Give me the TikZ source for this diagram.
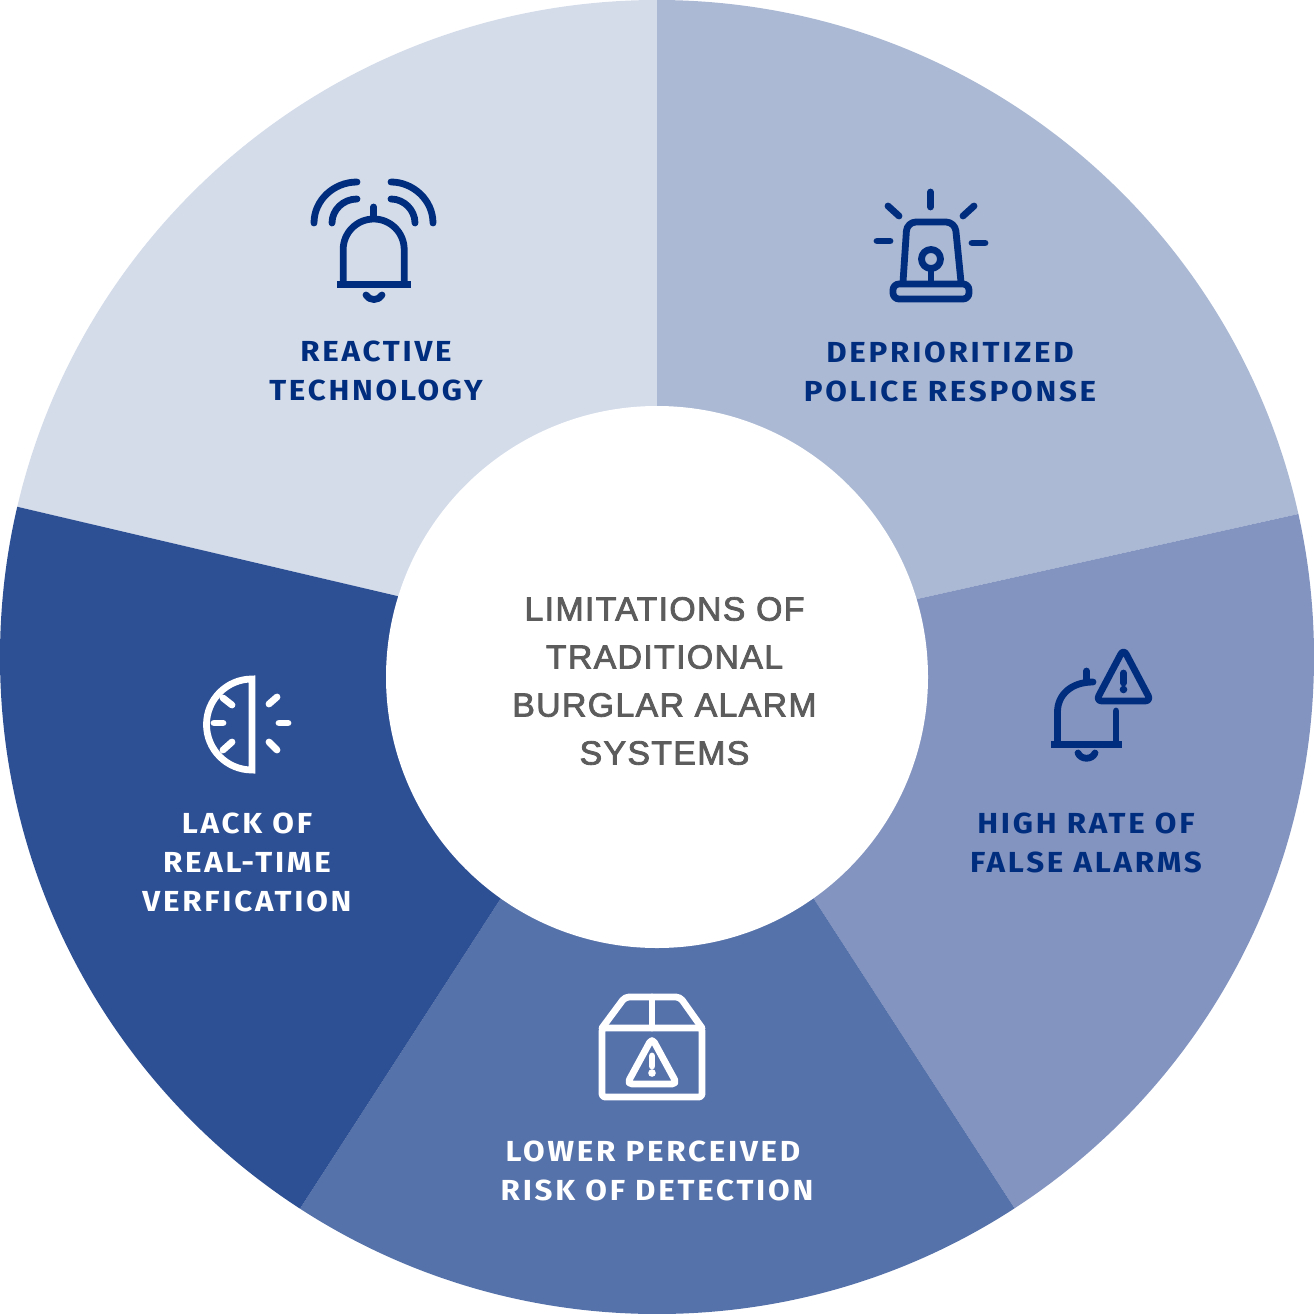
\documentclass[tikz,border=0pt]{standalone}
\usepackage{fontspec}
\setmainfont{Fira Sans}
\newfontfamily\lblbold[LetterSpace=9.5,FakeStretch=1.08]{Fira Sans Bold}
\newfontfamily\ctrfont[LetterSpace=4,FakeBold=2.4,FakeStretch=1.01]{Liberation Sans}
\definecolor{segA}{HTML}{ABB9D4}
\definecolor{segB}{HTML}{8394C0}
\definecolor{segC}{HTML}{5672AA}
\definecolor{segD}{HTML}{2D4F94}
\definecolor{segE}{HTML}{D4DCEA}
\definecolor{ink}{HTML}{012D7E}
\definecolor{ctrgray}{HTML}{5C5C5C}
\tikzset{
  lbl/.style={align=center,inner sep=0pt,font=\lblbold\fontsize{29}{39}\selectfont},
  ctr/.style={circle,fill=white,minimum size=542pt,inner sep=0pt},
  ico/.style={line width=6.8pt,line cap=round,line join=round},
  icosq/.style={line width=7pt,line cap=butt,line join=round},
}
\begin{document}
\begin{tikzpicture}[x=1pt,y=-1pt]
\useasboundingbox (0,0) rectangle (1314,1314);
\coordinate (o) at (657,657);
\begin{scope}
\clip (o) circle[radius=657pt];
\fill[segE] (o) -- (657,-20) -- (-20,-20) -- (-20,498) -- cycle;
\fill[segA] (o) -- (657,-20) -- (1334,-20) -- (1334,506) -- cycle;
\fill[segB] (o) -- (1334,506) -- (1334,1334) -- (1100,1340) -- cycle;
\fill[segC] (o) -- (1100,1340) -- (215,1340) -- cycle;
\fill[segD] (o) -- (215,1340) -- (-20,1334) -- (-20,498) -- cycle;
\end{scope}
\node[ctr] (hub) at (657,677) {};
\node[align=center,inner sep=0pt,text=ctrgray,font=\ctrfont\fontsize{33.5}{48}\selectfont] (hubtext) at (664.5,681) {LIMITATIONS OF\\TRADITIONAL\\BURGLAR ALARM\\SYSTEMS};

% Reactive technology icon
\begin{scope}[ink,ico]
\draw (343.2,284) -- (343.2,249.5) arc[start angle=180,end angle=0,radius=30.5pt] -- (404.2,284);
\draw (373.7,207) -- (373.7,217);
\draw[icosq] (337,284.5) -- (411,284.5);
\draw (366,295) .. controls (369,301) and (379,301) .. (382,295);
\draw (314,223) .. controls (314,200) and (334,182) .. (357,182);
\draw (332,223) .. controls (332,210) and (343,199) .. (357,199);
\draw (433,223) .. controls (433,200) and (413,182) .. (391,182);
\draw (415,223) .. controls (415,210) and (404,199) .. (391,199);
\end{scope}
\node[lbl,text=ink] (reactive) at (376,371) {REACTIVE\\TECHNOLOGY};

% Police light icon
\begin{scope}[ink,ico]
\draw (930.5,192) -- (930.5,207);
\draw (888,206) -- (899,216);
\draw (974,206) -- (963,216);
\draw (877,241) -- (890,241);
\draw (972,243) -- (985,243);
\draw[rounded corners=9pt] (903,282) -- (907,222) -- (955,222) -- (961,282);
\draw (931,259) circle[radius=9.5pt];
\draw (931,270) -- (931,282);
\draw[rounded corners=6pt] (893,284) rectangle (969,299);
\end{scope}
\node[lbl,text=ink] (police) at (950,372) {DEPRIORITIZED\\POLICE RESPONSE};

% False alarm icon
\begin{scope}[ink,ico]
\draw (1057.5,744) -- (1057.5,712) .. controls (1057.5,695) and (1071,682) .. (1093,682);
\draw (1086.5,671) -- (1086.5,680);
\draw (1116,711) -- (1116,744);
\draw[icosq] (1051,744.5) -- (1122,744.5);
\draw (1078,753) .. controls (1081,760) and (1092,760) .. (1095,753);
\draw[rounded corners=6pt] (1123.5,649) -- (1151,701) -- (1096,701) -- cycle;
\draw (1123.5,673) -- (1123.5,683);
\fill (1123.5,689.5) circle[radius=3.8pt];
\end{scope}
\node[lbl,text=ink] (falsealarm) at (1086,843) {HIGH RATE OF\\FALSE ALARMS};

% Box icon
\begin{scope}[white,ico]
\draw[rounded corners=3pt] (602,1028) rectangle (702,1097);
\draw[rounded corners=4pt] (602,1028) -- (625,997) -- (680,997) -- (702,1028);
\draw (652,997) -- (652,1028);
\draw[rounded corners=5pt] (652,1038) -- (677,1084) -- (627,1084) -- cycle;
\draw (652,1056) -- (652,1066);
\fill (652,1073) circle[radius=3.8pt];
\end{scope}
\node[lbl,text=white] (lowerrisk) at (657,1171) {LOWER PERCEIVED\hspace*{8pt}\\RISK OF DETECTION};

% Half clock icon
\begin{scope}[white,ico]
\draw[line cap=butt,line join=miter] (252,679) arc[start angle=90,end angle=270,radius=45.5pt] -- cycle;
\draw (223,698) -- (232,705);
\draw (214,723) -- (223,723);
\draw (223,750) -- (232,742);
\draw (269,704) -- (277,697);
\draw (279,723) -- (288,723);
\draw (269,742) -- (277,750);
\end{scope}
\node[lbl,text=white] (lackverif) at (247,862) {LACK OF\\REAL-TIME\\VERFICATION};
\end{tikzpicture}
\end{document}
